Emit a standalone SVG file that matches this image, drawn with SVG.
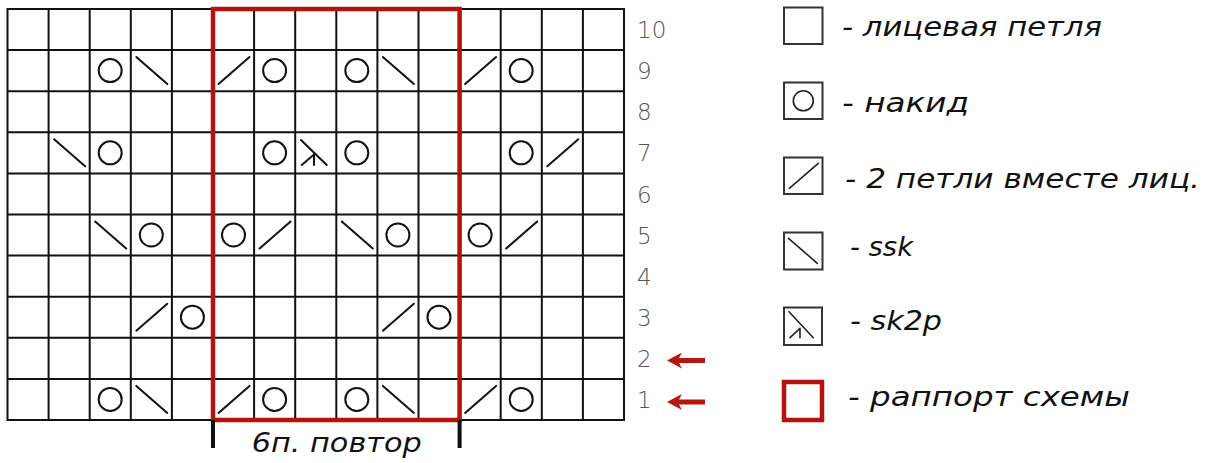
<svg xmlns="http://www.w3.org/2000/svg" xmlns:xlink="http://www.w3.org/1999/xlink" width="1216" height="463" viewBox="0 0 1216 463">
<style>
.grid{fill:none;stroke:#111;stroke-width:2}
.sym{fill:none;stroke:#111;stroke-width:2;stroke-linecap:round}
.lsym{fill:none;stroke:#222;stroke-width:1.6;stroke-linecap:round}
.lbox{fill:#fff;stroke:#333;stroke-width:2}
.rep{fill:none;stroke:#b3120d;stroke-width:4.5}
.num{font-family:"DejaVu Sans","Liberation Sans",sans-serif;font-weight:200;font-size:23px;fill:#555}
.lab{font-family:"DejaVu Sans","Liberation Sans",sans-serif;font-style:italic;font-size:26px;fill:#111}
.arr{fill:#b5170f}
</style>
<defs>
<g id="yo"><circle cx="20.5" cy="20.5" r="11.5" class="sym"/></g>
<g id="k2"><line x1="5.5" y1="34" x2="36.5" y2="7" class="sym"/></g>
<g id="ss"><line x1="5.5" y1="7" x2="36.5" y2="34" class="sym"/></g>
<g id="s3"><path d="M5.8 7.7L31.5 32.7M18.8 22.2L6.5 32.7M18.8 22.2V32.7" class="sym"/></g>
</defs>
<rect width="1216" height="463" fill="#fff"/>
<g id="chart">
<path class="grid" d="M7.5 9H624V420H7.5Z M48.6 9V420M89.7 9V420M130.8 9V420M171.9 9V420M213 9V420M254.1 9V420M295.2 9V420M336.3 9V420M377.4 9V420M418.5 9V420M459.6 9V420M500.7 9V420M541.8 9V420M582.9 9V420 M7.5 50.1H624M7.5 91.2H624M7.5 132.3H624M7.5 173.4H624M7.5 214.5H624M7.5 255.6H624M7.5 296.7H624M7.5 337.8H624M7.5 378.9H624"/>
</g>
<g id="row9">
<use xlink:href="#yo" x="89.7" y="50.1"/><use xlink:href="#ss" x="130.8" y="50.1"/>
<use xlink:href="#k2" x="213" y="50.1"/><use xlink:href="#yo" x="254.1" y="50.1"/>
<use xlink:href="#yo" x="336.3" y="50.1"/><use xlink:href="#ss" x="377.4" y="50.1"/>
<use xlink:href="#k2" x="459.6" y="50.1"/><use xlink:href="#yo" x="500.7" y="50.1"/>
</g>
<g id="row7">
<use xlink:href="#ss" x="48.6" y="132.3"/><use xlink:href="#yo" x="89.7" y="132.3"/>
<use xlink:href="#yo" x="254.1" y="132.3"/><use xlink:href="#s3" x="295.2" y="132.3"/><use xlink:href="#yo" x="336.3" y="132.3"/>
<use xlink:href="#yo" x="500.7" y="132.3"/><use xlink:href="#k2" x="541.8" y="132.3"/>
</g>
<g id="row5">
<use xlink:href="#ss" x="89.7" y="214.5"/><use xlink:href="#yo" x="130.8" y="214.5"/>
<use xlink:href="#yo" x="213" y="214.5"/><use xlink:href="#k2" x="254.1" y="214.5"/>
<use xlink:href="#ss" x="336.3" y="214.5"/><use xlink:href="#yo" x="377.4" y="214.5"/>
<use xlink:href="#yo" x="459.6" y="214.5"/><use xlink:href="#k2" x="500.7" y="214.5"/>
</g>
<g id="row3">
<use xlink:href="#k2" x="130.8" y="296.7"/><use xlink:href="#yo" x="171.9" y="296.7"/>
<use xlink:href="#k2" x="377.4" y="296.7"/><use xlink:href="#yo" x="418.5" y="296.7"/>
</g>
<g id="row1">
<use xlink:href="#yo" x="89.7" y="378.9"/><use xlink:href="#ss" x="130.8" y="378.9"/>
<use xlink:href="#k2" x="213" y="378.9"/><use xlink:href="#yo" x="254.1" y="378.9"/>
<use xlink:href="#yo" x="336.3" y="378.9"/><use xlink:href="#ss" x="377.4" y="378.9"/>
<use xlink:href="#k2" x="459.6" y="378.9"/><use xlink:href="#yo" x="500.7" y="378.9"/>
</g>
<g id="repeat">
<rect class="rep" x="213" y="9" width="246.6" height="411"/>
<path d="M213 420V448M459.6 420V448" stroke="#111" stroke-width="4"/>
<text class="lab" x="251.7" y="452" font-size="27" textLength="170" lengthAdjust="spacingAndGlyphs">6п. повтор</text>
</g>
<g id="rownums">
<text class="num" x="637" y="38">10</text>
<text class="num" x="637" y="79">9</text>
<text class="num" x="637" y="120">8</text>
<text class="num" x="637" y="161">7</text>
<text class="num" x="637" y="202.5">6</text>
<text class="num" x="637" y="243.5">5</text>
<text class="num" x="637" y="284.5">4</text>
<text class="num" x="637" y="325.5">3</text>
<text class="num" x="637" y="367">2</text>
<text class="num" x="637" y="408">1</text>
</g>
<g id="arrows">
<path class="arr" d="M667 360.5L682 352.5L679 358H705V363H679L682 368.5Z"/>
<path class="arr" d="M667 402L682 394L679 399.5H705V404.5H679L682 410Z"/>
</g>
<g id="legend-knit">
<rect class="lbox" x="784" y="7.5" width="38.5" height="36.5"/>
<text class="lab" x="842" y="36" textLength="260" lengthAdjust="spacingAndGlyphs">- лицевая петля</text>
</g>
<g id="legend-yo">
<rect class="lbox" x="784" y="82.5" width="38.5" height="36.5"/>
<circle class="lsym" cx="803.3" cy="100.8" r="10"/>
<text class="lab" x="842" y="111.5" textLength="127" lengthAdjust="spacingAndGlyphs">- накид</text>
</g>
<g id="legend-k2tog">
<rect class="lbox" x="784" y="157.5" width="38.5" height="36.5"/>
<line class="lsym" x1="789.3" y1="188.3" x2="818.3" y2="163.3"/>
<text class="lab" x="845" y="188" textLength="355" lengthAdjust="spacingAndGlyphs">- 2 петли вместе лиц.</text>
</g>
<g id="legend-ssk">
<rect class="lbox" x="784" y="232.5" width="38.5" height="37"/>
<line class="lsym" x1="788.5" y1="238.3" x2="817.3" y2="263.3"/>
<text class="lab" x="850" y="256" textLength="63" lengthAdjust="spacingAndGlyphs">- ssk</text>
</g>
<g id="legend-sk2p">
<rect class="lbox" x="784" y="307.5" width="38" height="37.5"/>
<path class="lsym" d="M789 311.7L813.3 337.7M800 328.3L790 337.7M800 328.3V337.7"/>
<text class="lab" x="850" y="330" textLength="92" lengthAdjust="spacingAndGlyphs">- sk2p</text>
</g>
<g id="legend-repeat">
<rect x="784" y="382" width="38" height="38" fill="#fff" stroke="#b3120d" stroke-width="4.5"/>
<text class="lab" x="848" y="406" textLength="282" lengthAdjust="spacingAndGlyphs">- раппорт схемы</text>
</g>
</svg>
